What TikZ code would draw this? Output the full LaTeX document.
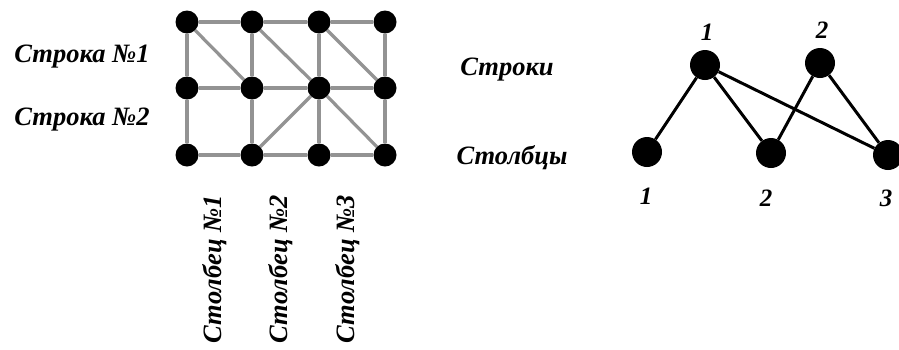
\documentclass[tikz,border=0pt]{standalone}
\usepackage{fontspec}
\setmainfont{Liberation Serif}
\begin{document}
\begin{tikzpicture}[x=1pt,y=-1pt,
  gdot/.style={circle,fill=black,inner sep=0pt,minimum size=23pt},
  bdot/.style={circle,fill=black,inner sep=0pt,minimum size=30pt},
  gedge/.style={draw=gray!85,line width=3.2pt},
  bedge/.style={draw=black,line width=3pt},
  lab/.style={font=\fontsize{26.5}{28}\selectfont\bfseries\itshape,inner sep=0pt},
  num/.style={font=\fontsize{25}{27}\selectfont\bfseries\itshape,inner sep=0pt}]
\useasboundingbox (0,0) rectangle (899,349);
% grid nodes
\foreach \c/\x in {1/187,2/252,3/319,4/385}
  \foreach \r/\y in {1/22,2/88,3/155}
    \node[gdot] (g\r\c) at (\x,\y) {};
\foreach \r in {1,2,3}
  \foreach \a/\b in {1/2,2/3,3/4}
    \path[gedge] (g\r\a) -- (g\r\b);
\foreach \c in {1,2,3,4}
  \foreach \a/\b in {1/2,2/3}
    \path[gedge] (g\a\c) -- (g\b\c);
\path[gedge] (g11) -- (g22);
\path[gedge] (g12) -- (g23);
\path[gedge] (g13) -- (g24);
\path[gedge] (g23) -- (g32);
\path[gedge] (g23) -- (g34);
% left labels
\node[lab] (s1) at (82,57) {Строка №1};
\node[lab] (s2) at (82,120) {Строка №2};
\node[lab,rotate=90] (c1) at (215,269) {Столбец №1};
\node[lab,rotate=90] (c2) at (281,269) {Столбец №2};
\node[lab,rotate=90] (c3) at (348,269) {Столбец №3};
% middle labels
\node[lab] (rows) at (507,70) {Строки};
\node[lab] (cols) at (512,158) {Столбцы};
% bipartite graph
\node[bdot] (t1) at (705,65) {};
\node[bdot] (t2) at (820,63) {};
\node[bdot] (b1) at (647,152) {};
\node[bdot] (b2) at (771,153) {};
\node[bdot] (b3) at (888,155) {};
\path[bedge] (t1) -- (b1);
\path[bedge] (t1) -- (b2);
\path[bedge] (t1) -- (b3);
\path[bedge] (t2) -- (b2);
\path[bedge] (t2) -- (b3);
\node[num] (lt1) at (707,32) {1};
\node[num] (lt2) at (822,30) {2};
\node[num] (lb1) at (646,196) {1};
\node[num] (lb2) at (766,198) {2};
\node[num] (lb3) at (886,198) {3};
\end{tikzpicture}
\end{document}
